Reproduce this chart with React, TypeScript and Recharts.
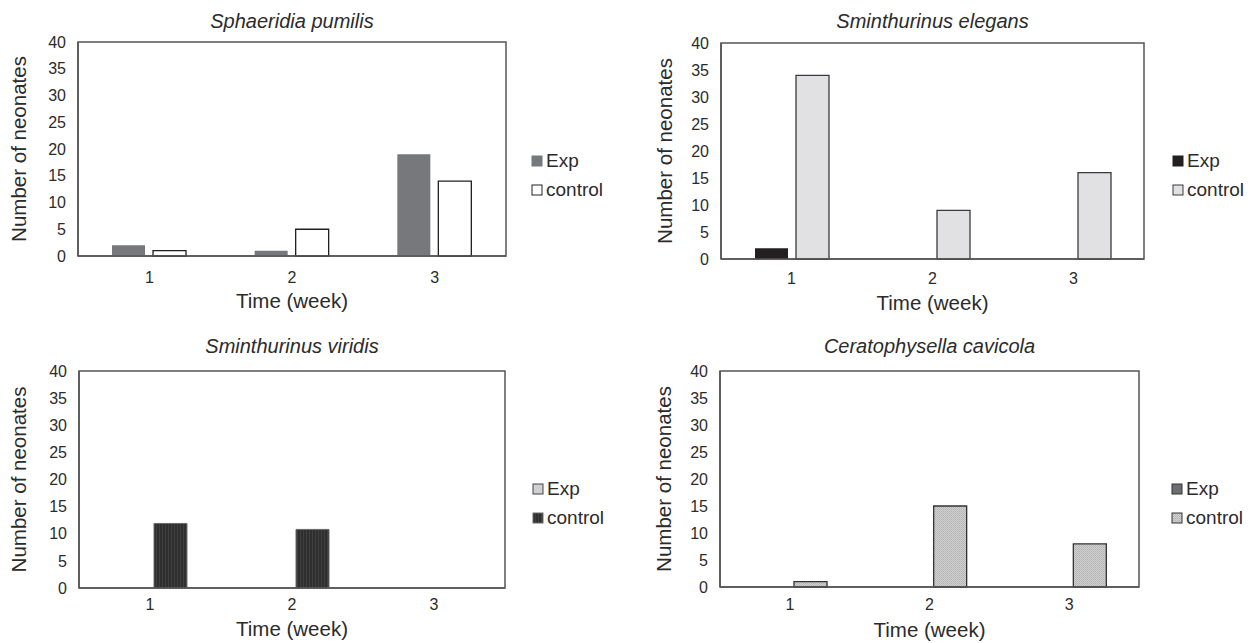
import * as React from 'react';
import { BarChart, Bar, XAxis, YAxis, Legend, ReferenceArea } from 'recharts';

// weeks on the x axis
const weeks = ['1', '2', '3'];
const yTicks = [0, 5, 10, 15, 20, 25, 30, 35, 40];

// number of neonates per week
const pumilisExp = [2, 1, 19];
const pumilisControl = [1, 5, 14];
const elegansExp = [2, 0, 0];
const elegansControl = [34, 9, 16];
const viridisExp = [0, 0, 0];
const viridisControl = [11.9, 10.8, 0];
const cavicolaExp = [0, 0, 0];
const cavicolaControl = [1, 15, 8];

const FONT = '"Liberation Sans", Arial, sans-serif';
const TEXT = '#2b2b2b';
const BOX = '#555555';

interface SeriesStyle {
  fill: string;
  stroke: string;
  strokeWidth: number;
}

interface PanelProps {
  title: string;
  exp: number[];
  control: number[];
  expStyle: SeriesStyle;
  controlStyle: SeriesStyle;
  left: number;
  top: number;
  width: number;
  height: number;
  margin: { top: number; right: number; left: number; bottom: number };
  yAxisWidth: number;
  xAxisHeight: number;
  xTickMargin: number;
  xLabelOffset: number;
  titleY: number;
  yLabelX: number;
  legendLeft: number;
  legendTop: number;
}

function makeRows(exp: number[], control: number[]) {
  return weeks.map((w, i) => ({ week: w, Exp: exp[i], control: control[i] }));
}

function Panel(p: PanelProps) {
  const rows = makeRows(p.exp, p.control);
  const legendItems = [
    { name: 'Exp', style: p.expStyle },
    { name: 'control', style: p.controlStyle },
  ];
  const renderLegend = () => (
    <div style={{ fontFamily: FONT, fontSize: 19, color: TEXT }}>
      {legendItems.map((it) => (
        <div key={it.name} style={{ display: 'flex', alignItems: 'center', height: 29 }}>
          <svg width={12} height={12} style={{ marginRight: 3 }}>
            <rect x={1} y={1} width={10} height={10} fill={it.style.fill}
              stroke={it.style.stroke === 'none' ? it.style.fill : it.style.stroke} strokeWidth={1} />
          </svg>
          <span>{it.name}</span>
        </div>
      ))}
    </div>
  );

  return (
    <div style={{ position: 'absolute', left: p.left, top: p.top, width: p.width, height: p.height }}>
      <BarChart width={p.width} height={p.height} data={rows} margin={p.margin}
        barSize={33} barGap={8}>
        <defs>
          <pattern id="vstripes" width={3} height={4} patternUnits="userSpaceOnUse">
            <rect width={3} height={4} fill="#2f2f2f" />
            <rect width={1} height={4} fill="#3f3f3f" />
          </pattern>
          <pattern id="dots" width={2} height={2} patternUnits="userSpaceOnUse">
            <rect width={2} height={2} fill="#cfcfcf" />
            <rect width={1} height={1} fill="#b3b3b3" />
            <rect x={1} y={1} width={1} height={1} fill="#bdbdbd" />
          </pattern>
        </defs>
        <XAxis dataKey="week" type="category" height={p.xAxisHeight}
          axisLine={{ stroke: BOX, strokeWidth: 1.5 }} tickLine={false} tickSize={6} tickMargin={p.xTickMargin}
          tick={{ fill: TEXT, fontSize: 16, fontFamily: FONT }}
          label={{
            content: (props: any) => {
              const vb = props.viewBox;
              return (
                <text x={vb.x + vb.width / 2} y={vb.y + p.xLabelOffset} textAnchor="middle"
                  fill={TEXT} fontSize={20.5} fontFamily={FONT}>Time (week)</text>
              );
            },
          }} />
        <YAxis domain={[0, 40]} ticks={yTicks} interval={0} width={p.yAxisWidth}
          axisLine={{ stroke: BOX, strokeWidth: 1.5 }} tickLine={false} tickSize={6} tickMargin={6}
          tick={{ fill: TEXT, fontSize: 16, fontFamily: FONT }}
          label={{
            content: (props: any) => {
              const vb = props.viewBox;
              const cy = vb.y + vb.height / 2;
              return (
                <text x={p.yLabelX} y={cy} textAnchor="middle" dominantBaseline="central"
                  transform={`rotate(-90 ${p.yLabelX} ${cy})`}
                  fill={TEXT} fontSize={20.5} fontFamily={FONT}>Number of neonates</text>
              );
            },
          }} />
        <ReferenceArea x1="1" x2="3" y1={0} y2={40} fill="none" stroke={BOX} strokeWidth={1.5}
          ifOverflow="visible" />
        <Legend content={renderLegend} layout="vertical" align="center" verticalAlign="middle"
          wrapperStyle={{ position: 'absolute', left: p.legendLeft, top: p.legendTop, width: 'auto' }} />
        <Bar dataKey="Exp" fill={p.expStyle.fill} stroke={p.expStyle.stroke}
          strokeWidth={p.expStyle.strokeWidth} isAnimationActive={false} />
        <Bar dataKey="control" fill={p.controlStyle.fill} stroke={p.controlStyle.stroke}
          strokeWidth={p.controlStyle.strokeWidth} isAnimationActive={false} />
      </BarChart>
      <div style={{
        position: 'absolute', left: p.margin.left + p.yAxisWidth, top: p.titleY - 12,
        width: p.width - p.margin.left - p.yAxisWidth - p.margin.right, textAlign: 'center',
        fontFamily: FONT, fontStyle: 'italic', fontSize: 20, color: TEXT, lineHeight: '24px',
      }}>{p.title}</div>
    </div>
  );
}

export default function App() {
  return (
    <div style={{ position: 'absolute', left: 0, top: 0, width: 1258, height: 643, background: '#fff' }}>
      <Panel title="Sphaeridia pumilis" exp={pumilisExp} control={pumilisControl}
        expStyle={{ fill: '#77787b', stroke: 'none', strokeWidth: 0 }}
        controlStyle={{ fill: '#ffffff', stroke: '#231f20', strokeWidth: 1.3 }}
        left={0} top={0} width={629} height={321}
        margin={{ top: 42, right: 123, left: 0, bottom: 0 }} yAxisWidth={78} xAxisHeight={65}
        xTickMargin={10} xLabelOffset={52} titleY={21}
        yLabelX={18} legendLeft={531} legendTop={146} />
      <Panel title="Sminthurinus elegans" exp={elegansExp} control={elegansControl}
        expStyle={{ fill: '#231f20', stroke: 'none', strokeWidth: 0 }}
        controlStyle={{ fill: '#e1e1e3', stroke: '#3a3a3a', strokeWidth: 1.3 }}
        left={629} top={0} width={629} height={321}
        margin={{ top: 43, right: 114, left: 0, bottom: 0 }} yAxisWidth={92} xAxisHeight={62}
        xTickMargin={8} xLabelOffset={51} titleY={21}
        yLabelX={35} legendLeft={543} legendTop={146} />
      <Panel title="Sminthurinus viridis" exp={viridisExp} control={viridisControl}
        expStyle={{ fill: '#d0d0d2', stroke: '#444444', strokeWidth: 1 }}
        controlStyle={{ fill: 'url(#vstripes)', stroke: '#6a6a6a', strokeWidth: 1 }}
        left={0} top={321} width={629} height={322}
        margin={{ top: 50, right: 124, left: 0, bottom: 0 }} yAxisWidth={79} xAxisHeight={55}
        xTickMargin={5} xLabelOffset={48} titleY={25}
        yLabelX={18} legendLeft={532} legendTop={153} />
      <Panel title="Ceratophysella cavicola" exp={cavicolaExp} control={cavicolaControl}
        expStyle={{ fill: '#6d6e71', stroke: '#333333', strokeWidth: 1 }}
        controlStyle={{ fill: 'url(#dots)', stroke: '#333333', strokeWidth: 1.3 }}
        left={629} top={321} width={629} height={322}
        margin={{ top: 50, right: 119, left: 0, bottom: 0 }} yAxisWidth={91} xAxisHeight={56}
        xTickMargin={6} xLabelOffset={50} titleY={25}
        yLabelX={34} legendLeft={542} legendTop={153} />
    </div>
  );
}
